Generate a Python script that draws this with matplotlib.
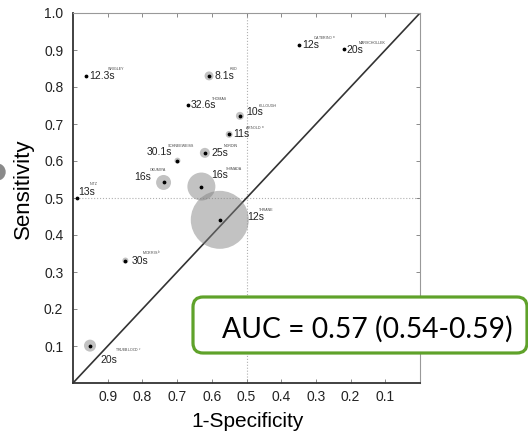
import numpy as np
import matplotlib
matplotlib.use("Agg")
import matplotlib.pyplot as plt
from matplotlib.patches import FancyBboxPatch, Circle
from matplotlib.transforms import IdentityTransform

##datos de cada estudio##
estudios = ["WRIGLEY", "HUD", "THOMAS", "KILLOUGH", "ARNOLD", "CATERINO",
            "MARSCHOLLEK", "SCHNEEWEISS", "NORDIN", "OKUMIYA", "SHIMADA",
            "NITZ", "THRANE", "MORRIS", "TRUEBLOOD"]
notas = ["", "", "", "", "a", "a", "", "", "", "", "", "", "", "b", "c"]
especif_1 = [0.963, 0.608, 0.669, 0.519, 0.550, 0.349, 0.219, 0.699, 0.620,
             0.739, 0.630, 0.989, 0.577, 0.849, 0.951]
sensib = [0.830, 0.830, 0.751, 0.722, 0.672, 0.914, 0.903, 0.601, 0.622,
          0.542, 0.531, 0.501, 0.441, 0.331, 0.101]
tiempos = ["12.3s", "8.1s", "32.6s", "10s", "11s", "12s", "20s", "30.1s",
           "25s", "16s", "16s", "13s", "12s", "30s", "20s"]
peso = [0, 20, 0, 16, 12, 0, 0, 9, 25, 56, 196, 0, 841, 9, 36]

xticks = [0.9, 0.8, 0.7, 0.6, 0.5, 0.4, 0.3, 0.2, 0.1]
yticks = [0.1, 0.2, 0.3, 0.4, 0.5, 0.6, 0.7, 0.8, 0.9, 1.0]
auc_texto = "AUC = 0.57 (0.54-0.59)"

##desplazamientos de las etiquetas (pixeles, y hacia abajo)##
off_t = [(3, 0, "left"), (5, 0, "left"), (3, 0, "left"), (6, -4, "left"),
         (4, 0, "left"), (3, 0, "left"), (2, 1, "left"), (-5, -9, "right"),
         (7, 0, "left"), (-12, -5, "right"), (10, -12, "left"), (1, -6, "left"),
         (27, -3, "left"), (6, 0, "left"), (10, 14, "left")]
off_n = [(22, -7), (21, -7), (24, -6), (19, -10), (16, -6), (14, -7), (15, -6),
         (-10, -15), (19, -7), (-14, -12), (24, -18), (13, -14), (39, -10),
         (17, -7), (25, 4)]

fig = plt.figure(figsize=(5.28, 4.34), dpi=100)
ax = fig.add_axes([73/528, 51/434, 347/528, 370/434])

##lineas de referencia##
ax.plot([1, 0], [0, 1], c="#333333", lw=1.2, zorder=2)
ax.axvline(0.5, c="#b0b0b0", ls=":", lw=0.8, zorder=1)
ax.axhline(0.5, c="#b0b0b0", ls=":", lw=0.8, zorder=1)

##burbujas y puntos##
px = 0.72
ax.scatter(especif_1, sensib, s=np.array(peso)*4*px*px, c="gray", alpha=0.48,
           edgecolors="none", zorder=3)
ax.scatter(especif_1, sensib, s=3, c="black", zorder=4)

for i in range(len(estudios)):
    dx, dy, ha = off_t[i]
    ax.annotate(tiempos[i], (especif_1[i], sensib[i]), xytext=(dx*px, -dy*px),
                textcoords="offset points", ha=ha, va="center", fontsize=7.5,
                family="Liberation Sans", color="#222222", zorder=5)
    nombre = estudios[i]
    if notas[i]:
        nombre = nombre + " $^{" + notas[i] + "}$"
    ax.annotate(nombre, (especif_1[i], sensib[i]),
                xytext=(off_n[i][0]*px, -off_n[i][1]*px),
                textcoords="offset points", ha="left", va="center", fontsize=2.6,
                family="Liberation Sans", color="#444444", zorder=5)

ax.set_xlim(1.0, 0.0)
ax.set_ylim(0.0, 1.0)
ax.set_xticks(xticks)
ax.set_xticklabels([str(t) for t in xticks])
ax.set_yticks(yticks)
ax.set_yticklabels([str(t) for t in yticks])
ax.tick_params(direction="in", length=3, width=0.6, color="#777777",
               labelsize=10, labelcolor="#222222", top=True, right=True)
ax.tick_params(axis="y", pad=7)
ax.tick_params(axis="x", pad=5)
for lab in ax.get_xticklabels() + ax.get_yticklabels():
    lab.set_family("Liberation Sans")
ax.tick_params(labelright=False, labeltop=False)
for s in ["left", "bottom"]:
    ax.spines[s].set_color("#333333")
    ax.spines[s].set_linewidth(1.3)
for s in ["top", "right"]:
    ax.spines[s].set_color("#999999")
    ax.spines[s].set_linewidth(0.8)

ax.set_ylabel("Sensitivity", fontsize=16, family="Liberation Sans", va="center")
ax.yaxis.set_label_coords(-0.144, 0.524)
ax.set_xlabel("1-Specificity", fontsize=15, family="Liberation Sans", va="center")
ax.xaxis.set_label_coords(0.504, -0.105)

##recuadro del AUC##
caja = FancyBboxPatch((193, 434-353), 334, 56,
                      boxstyle="round,pad=0,rounding_size=10",
                      transform=IdentityTransform(), facecolor="white",
                      edgecolor="#5fa22a", lw=2.3, zorder=10)
fig.patches.append(caja)
fig.text(367/528, (434-338)/434, auc_texto, ha="center", va="baseline",
         fontsize=20.3, family="Lato", color="black", zorder=11)

##fragmento gris a la izquierda##
fig.patches.append(Circle((-3, 434-172), 8, transform=IdentityTransform(),
                          color="#8a8a8a", zorder=10))

fig.savefig("out.png", dpi=100)
